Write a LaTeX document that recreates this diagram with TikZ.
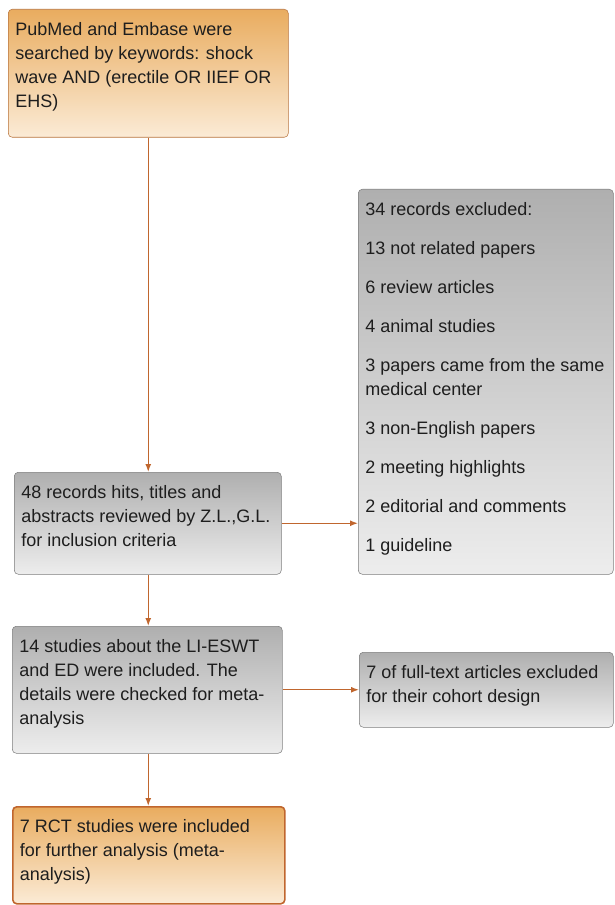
\documentclass[tikz,border=0pt]{standalone}
\usepackage{fontspec}
\setmainfont{Liberation Sans}
\usetikzlibrary{arrows.meta}
\definecolor{txtgray}{HTML}{1E1E1E}
\definecolor{linkorange}{HTML}{C0662E}
\definecolor{orangetop}{HTML}{E9AC5F}
\definecolor{orangebot}{HTML}{FBEBD6}
\definecolor{orangeline}{HTML}{B8743E}
\definecolor{graytop}{HTML}{AFAFAF}
\definecolor{graybot}{HTML}{EDEDED}
\definecolor{grayline}{HTML}{7E7E7E}
% text block of fixed size, top aligned
\newcommand{\flowtext}[3]{\parbox[t][#2][t]{#1}{\raggedright\strut#3}}
\begin{document}
\begin{tikzpicture}[x=0.75pt, y=-0.75pt, line join=round, >={Latex[length=6pt,width=4.5pt]},
  font=\fontsize{13.5}{18}\selectfont\color{txtgray},
  flowbox/.style={draw, rounded corners=3pt, anchor=north west, inner xsep=5.25pt, inner ysep=6.75pt},
  orangebox/.style={flowbox, draw=orangeline, top color=orangetop, bottom color=orangebot},
  graybox/.style={flowbox, draw=grayline, top color=graytop, bottom color=graybot},
  link/.style={->, draw=linkorange, line width=1pt}]
\useasboundingbox (0,0) rectangle (614,905);
\node[orangebox] (search) at (8,9) {\flowtext{199.5pt}{82.5pt}{PubMed and Embase were\\ searched by keywords: shock\\ wave AND (erectile OR IIEF OR\\ EHS)}};
\node[graybox] (hits) at (14,472) {\flowtext{189.75pt}{63pt}{48 records hits, titles and\\ abstracts reviewed by Z.L.,G.L.\\ for inclusion criteria}};
\node[graybox] (excluded) at (358,189) {\flowtext{180.75pt}{275.25pt}{34 records excluded:\\[11.25pt]
  13 not related papers\\[11.25pt]
  6 review articles\\[11.25pt]
  4 animal studies\\[11.25pt]
  3 papers came from the same\\ medical center\\[11.25pt]
  3 non-English papers\\[11.25pt]
  2 meeting highlights\\[11.25pt]
  2 editorial and comments\\[11.25pt]
  1 guideline}};
\node[graybox] (studies) at (12,626) {\flowtext{192pt}{81.75pt}{14 studies about the LI-ESWT\\ and ED were included. The\\ details were checked for meta-\\ analysis}};
\node[graybox] (cohort) at (359,652) {\flowtext{180pt}{42.75pt}{7 of full-text articles excluded\\ for their cohort design}};
\node[orangebox, draw=linkorange, line width=1.2pt] (rct) at (12,806) {\flowtext{193.5pt}{59.25pt}{7 RCT studies were included\\ for further analysis (meta-\\ analysis)}};
% connectors
\draw[link] (search.south) -- (search.south |- hits.north);
\draw[link] (hits.east) -- (hits.east -| excluded.west);
\draw[link] (search.south |- hits.south) -- (search.south |- studies.north);
\draw[link] (studies.east) -- (cohort.west);
\draw[link] (search.south |- studies.south) -- (search.south |- rct.north);
\end{tikzpicture}
\end{document}
